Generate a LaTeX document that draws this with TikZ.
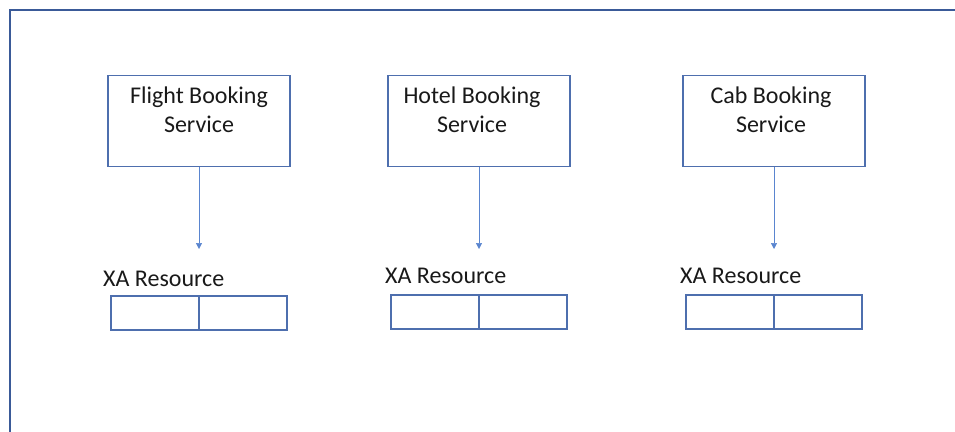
\documentclass[tikz,border=0pt]{standalone}
\usepackage{fontspec}
\setmainfont{Carlito}
\usetikzlibrary{arrows.meta}
\definecolor{framec}{HTML}{3A5A98}
\definecolor{boxc}{HTML}{4E6FAE}
\definecolor{arrc}{HTML}{5A85CF}
\tikzset{
  svc/.style={draw=boxc, line width=1.2pt, minimum width=182pt, minimum height=91pt, inner sep=0pt, align=center, text=black!90, font=\fontsize{24}{29}\selectfont},
  half/.style={draw=boxc, line width=1.2pt, minimum width=88pt, minimum height=34pt, inner sep=0pt},
  xalab/.style={anchor=west, inner sep=0pt, text=black!90, font=\fontsize{24}{28}\selectfont},
  conn/.style={draw=arrc, line width=0.5pt, -{Triangle[width=6pt,length=6pt]}}
}
\begin{document}
\begin{tikzpicture}[x=1pt,y=-1pt]
\useasboundingbox (0,0) rectangle (955,431);
\draw[framec, line width=1.5pt] (10,440) -- (10,10) -- (960,10);
% services
\node[svc, text depth=22pt] (f) at (199,121) {Flight Booking\\Service};
\node[svc, text depth=22pt] (h) at (479,121) {Hotel Booking\kern14pt\\Service\kern14pt};
\node[svc, text depth=22pt] (c) at (774,121) {Cab Booking\kern6pt\\Service\kern6pt};
% arrow endpoints
\coordinate (fe) at (199,249);
\coordinate (he) at (479,249);
\coordinate (ce) at (774,249);
\draw[conn] (f.south) -- (fe);
\draw[conn] (h.south) -- (he);
\draw[conn] (c.south) -- (ce);
% labels
\node[xalab] (fl) at (103,279) {XA Resource};
\node[xalab] (hl) at (385,276) {XA Resource};
\node[xalab] (cl) at (680,276) {XA Resource};
% resource boxes
\node[half] (f1) at (155,313) {};
\node[half] (f2) at (243,313) {};
\node[half] (h1) at (435,312) {};
\node[half] (h2) at (523,312) {};
\node[half] (c1) at (730,312) {};
\node[half] (c2) at (818,312) {};
\end{tikzpicture}
\end{document}
